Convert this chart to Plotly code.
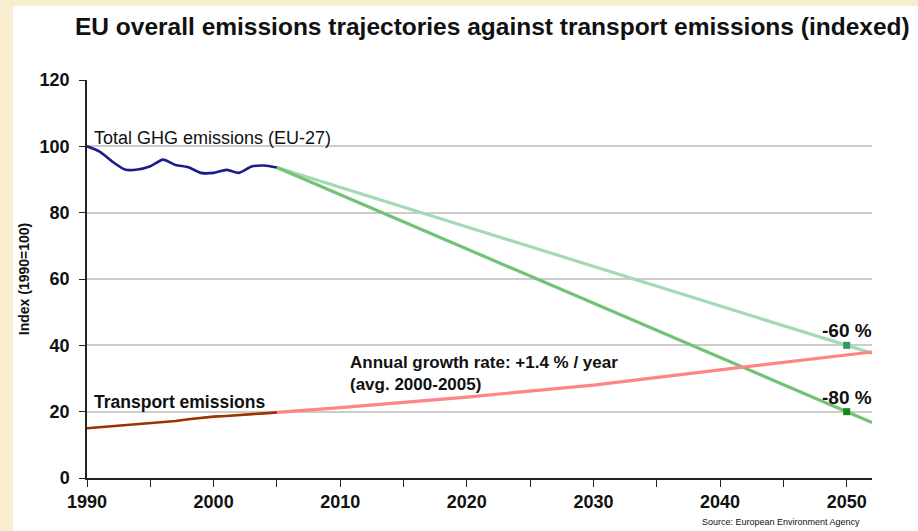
import plotly.graph_objects as go

# Historical data (index, 1990 = 100)
hist_years = list(range(1990, 2006))
ghg_total = [100.0, 98.4, 95.4, 93.0, 93.0, 94.0, 96.0, 94.4, 93.7, 92.0,
             92.0, 92.9, 92.0, 93.9, 94.2, 93.6]
transport = [15.0, 15.3, 15.6, 15.8, 16.1, 16.4, 16.8, 17.2, 17.7, 18.2,
             18.5, 18.7, 18.9, 19.1, 19.5, 19.8]

# Projections to 2052
proj_years = [2005, 2050, 2052]
path_60 = [93.6, 40.0, 37.6]
path_80 = [93.6, 20.0, 16.7]
transport_proj_years = [2005, 2010, 2020, 2030, 2040, 2050, 2052]
transport_proj = [19.8, 21.2, 24.4, 28.0, 32.6, 37.2, 38.0]

# 2050 target points
target_years = [2050, 2050]
target_values = [40, 20]
target_labels = ["-60 %", "-80 %"]

x_ticks = [1990, 2000, 2010, 2020, 2030, 2040, 2050]
y_ticks = [0, 20, 40, 60, 80, 100, 120]

NARROW = "Liberation Sans Narrow, Arial Narrow, Liberation Sans, Arial, sans-serif"
SANS = "Liberation Sans, Arial, sans-serif"
INK = "#111111"

# Page geometry
L, R, T, B = 87, 46, 80, 53
W, H = 918, 531
pw, ph = W - L - R, H - T - B


def px(x):
    return (x - L) / pw


def py(y):
    return (H - B - y) / ph


fig = go.Figure()

fig.add_trace(go.Scatter(x=proj_years, y=path_60, mode="lines",
                         line=dict(color="#a5d8b6", width=3.2)))
fig.add_trace(go.Scatter(x=proj_years, y=path_80, mode="lines",
                         line=dict(color="#74c274", width=3.2)))
fig.add_trace(go.Scatter(x=transport_proj_years, y=transport_proj, mode="lines",
                         line=dict(color="#ff8585", width=3.2)))
fig.add_trace(go.Scatter(x=hist_years, y=ghg_total, mode="lines",
                         line=dict(color="#1c1c8a", width=2.6, shape="spline", smoothing=0.6)))
fig.add_trace(go.Scatter(x=hist_years, y=transport, mode="lines",
                         line=dict(color="#993300", width=2.6)))
fig.add_trace(go.Scatter(x=target_years[:1], y=target_values[:1], mode="markers",
                         marker=dict(symbol="square", size=7, color="#2e9a5e")))
fig.add_trace(go.Scatter(x=target_years[1:], y=target_values[1:], mode="markers",
                         marker=dict(symbol="square", size=7, color="#0a8a1a")))

annotations = [
    dict(x=1990.4, y=100, xanchor="left", yanchor="bottom", yshift=-4,
         text="Total GHG emissions (EU-27)", showarrow=False,
         font=dict(family=SANS, size=18, color=INK)),
    dict(x=1990.4, y=20, xanchor="left", yanchor="bottom", yshift=-2,
         text="<b>Transport emissions</b>", showarrow=False,
         font=dict(family=SANS, size=17.5, color=INK)),
    dict(x=2010.6, y=38.3, xanchor="left", yanchor="top",
         text="<b>Annual growth rate: +1.4 % / year<br>(avg. 2000-2005)</b>",
         align="left", showarrow=False,
         font=dict(family=SANS, size=17, color=INK)),
]
for yr, val, lab in zip(target_years, target_values, target_labels):
    annotations.append(dict(x=yr, y=val, xanchor="center", yanchor="bottom",
                            yshift=2, text="<b>" + lab + "</b>", showarrow=False,
                            font=dict(family=SANS, size=19, color=INK)))
annotations.append(dict(x=px(862), y=py(522), xref="paper", yref="paper",
                        xanchor="right", yanchor="middle",
                        text="Source: European Environment Agency", showarrow=False,
                        font=dict(family=NARROW, size=9, color=INK)))
annotations.append(dict(x=px(492), y=py(27), xref="paper", yref="paper",
                        xanchor="center", yanchor="middle",
                        text="<b>EU overall emissions trajectories against transport emissions (indexed)</b>",
                        showarrow=False,
                        font=dict(family=NARROW, size=24.5, color=INK)))

# Cream strips on the left and top edges of the page
shapes = [
    dict(type="rect", xref="paper", yref="paper", x0=px(0), x1=px(13), y0=py(H), y1=py(0),
         fillcolor="#f8eecf", line=dict(width=0), layer="below"),
    dict(type="rect", xref="paper", yref="paper", x0=px(0), x1=px(W), y0=py(6), y1=py(0),
         fillcolor="#f8eecf", line=dict(width=0), layer="below"),
]

tick_font = dict(family=SANS, size=18, color=INK, weight="bold")

fig.update_layout(
    width=W, height=H,
    margin=dict(l=L, r=R, t=T, b=B),
    paper_bgcolor="white", plot_bgcolor="white",
    showlegend=False,
    annotations=annotations,
    shapes=shapes,
    xaxis=dict(range=[1990, 2052], tickvals=list(range(1990, 2051, 5)),
               ticktext=[str(y) if y in x_ticks else "" for y in range(1990, 2051, 5)],
               showgrid=False, zeroline=False, showline=True, linecolor="#222222",
               linewidth=1.5, ticks="outside", ticklen=7, tickcolor="#222222",
               tickfont=tick_font),
    yaxis=dict(range=[0, 120], tickvals=y_ticks, showgrid=True, gridcolor="#cccccc",
               gridwidth=1.5, zeroline=False, showline=True, linecolor="#222222",
               linewidth=1.5, ticks="outside", ticklen=6, tickcolor="#222222",
               ticklabelstandoff=6, tickfont=tick_font,
               title=dict(text="<b>Index (1990=100)</b>", standoff=7,
                          font=dict(family=NARROW, size=14, color=INK))),
)

fig.write_html("out.html")
